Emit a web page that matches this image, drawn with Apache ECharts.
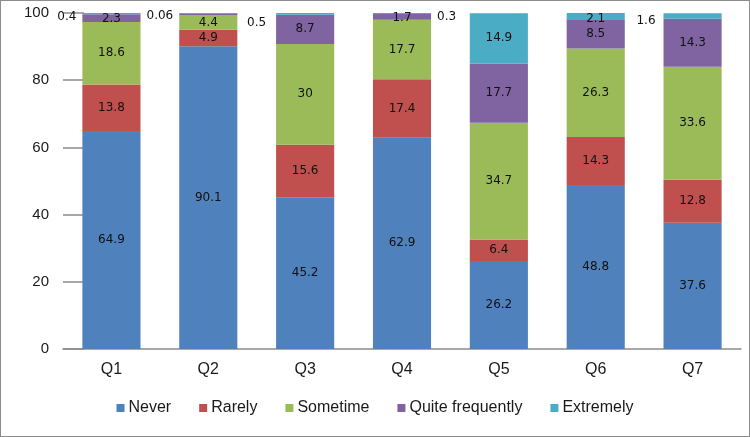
<!DOCTYPE html>
<html>
<head>
<meta charset="utf-8">
<script src="https://cdn.jsdelivr.net/npm/echarts@6/dist/echarts.min.js"></script>
<style>
  html, body { margin: 0; padding: 0; background: #fff; }
  #chart { width: 750px; height: 437px; box-sizing: border-box; border: 1px solid #8c8c8c; }
</style>
</head>
<body>
<div id="chart"></div>
<script>
const categories = ['Q1', 'Q2', 'Q3', 'Q4', 'Q5', 'Q6', 'Q7'];
const seriesNames = ['Never', 'Rarely', 'Sometime', 'Quite frequently', 'Extremely'];
const never = [64.9, 90.1, 45.2, 62.9, 26.2, 48.8, 37.6];
const rarely = [13.8, 4.9, 15.6, 17.4, 6.4, 14.3, 12.8];
const sometime = [18.6, 4.4, 30, 17.7, 34.7, 26.3, 33.6];
const quiteFrequently = [2.3, 0.5, 8.7, 1.7, 17.7, 8.5, 14.3];
const extremely = [0.4, 0.06, 0.5, 0.3, 14.9, 2.1, 1.6];
const yTicks = [0, 20, 40, 60, 80, 100];

const colors = ['#4F81BD', '#C0504D', '#9BBB59', '#8064A2', '#4BACC6'];
const values = [never, rarely, sometime, quiteFrequently, extremely];
const axisFont = 'Liberation Sans';

// tiny values get their label pushed outside the bar, like the original
const outsideLabel = {
  0: { position: 'left', offset: [-1, 3] },
  1: { position: 'left', offset: [-1, 3] },
  2: { position: 'left', offset: [-5, 9] },
  3: { position: 'right', offset: [1, 3] },
  6: { position: 'left', offset: [-3, 5] }
};

const labelFont = { fontFamily: 'DejaVu Sans', fontSize: 12, color: '#111' };

const series = seriesNames.map((name, s) => ({
  name,
  type: 'bar',
  stack: 'total',
  barWidth: '60%',
  itemStyle: { color: colors[s] },
  label: Object.assign({ show: true, position: 'inside' }, labelFont),
  data: values[s].map((v, i) => {
    const item = { value: v };
    if (s === 4 && outsideLabel[i]) {
      item.label = Object.assign({ show: true }, labelFont, outsideLabel[i]);
    }
    if (s === 3 && i === 1) item.label = { show: false };
    if (s === 4 && i === 5) item.label = Object.assign({ show: true, position: 'insideTop', offset: [0, -5] }, labelFont);
    if (s === 3 && (i === 0 || i === 3)) item.label = Object.assign({ show: true, position: 'inside', offset: [0, 1] }, labelFont);
    return item;
  })
}));

const chart = echarts.init(document.getElementById('chart'), null, { renderer: 'canvas' });
chart.setOption({
  animation: false,
  grid: { left: 62, right: 8, top: 12, bottom: 87, containLabel: false },
  legend: {
    bottom: 15,
    left: 'center',
    itemWidth: 8,
    itemHeight: 8,
    itemGap: 28,
    icon: 'rect',
    textStyle: { fontFamily: axisFont, fontSize: 16, color: '#1a1a1a', padding: [0, 0, 0, -1] },
    data: seriesNames
  },
  xAxis: {
    type: 'category',
    data: categories,
    axisLine: { lineStyle: { color: '#8c8c8c', width: 1.5 } },
    axisTick: { show: false },
    axisLabel: { fontFamily: axisFont, fontSize: 16, color: '#1a1a1a', margin: 13 }
  },
  yAxis: {
    type: 'value',
    min: 0,
    max: 100,
    interval: 20,
    axisLine: { show: false },
    axisTick: { show: true, inside: true, length: 21, lineStyle: { color: '#8c8c8c', width: 1.5 } },
    splitLine: { show: false },
    axisLabel: {
      fontFamily: axisFont, fontSize: 15, color: '#1a1a1a', margin: 14,
      formatter: v => yTicks.includes(v) ? String(v) : ''
    }
  },
  series
});
</script>
</body>
</html>
